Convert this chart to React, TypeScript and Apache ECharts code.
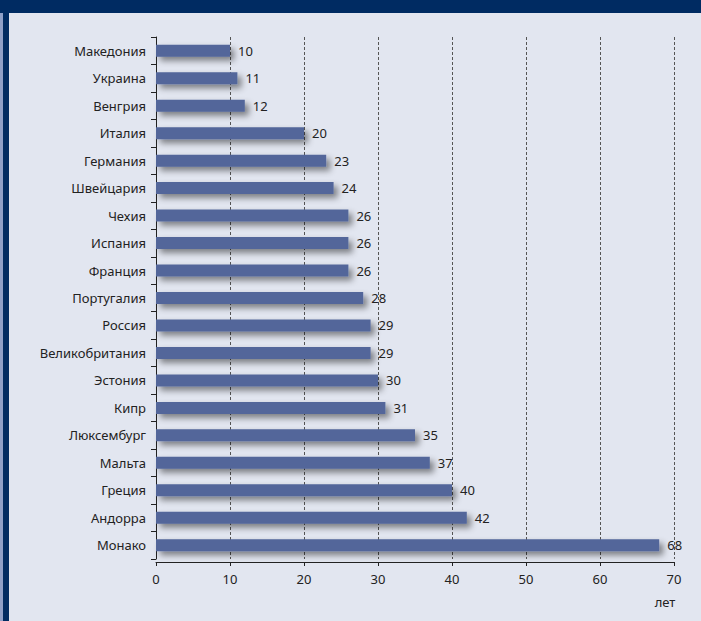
import React, { useEffect, useRef } from "react";
import * as echarts from "echarts";

const countries = [
  "Македония",
  "Украина",
  "Венгрия",
  "Италия",
  "Германия",
  "Швейцария",
  "Чехия",
  "Испания",
  "Франция",
  "Португалия",
  "Россия",
  "Великобритания",
  "Эстония",
  "Кипр",
  "Люксембург",
  "Мальта",
  "Греция",
  "Андорра",
  "Монако",
];
const values = [10, 11, 12, 20, 23, 24, 26, 26, 26, 28, 29, 29, 30, 31, 35, 37, 40, 42, 68];
const unitLabel = "лет";

export default function App() {
  const ref = useRef<HTMLDivElement>(null);
  useEffect(() => {
    if (!ref.current) return;
    const chart = echarts.init(ref.current, null, { renderer: "svg" });
    const font = "'Noto Sans', 'Open Sans', sans-serif";
    chart.setOption({
      animation: false,
      backgroundColor: "#e2e6f0",
      grid: { left: 156, right: 27, top: 37, bottom: 62 },
      xAxis: {
        type: "value",
        min: 0,
        max: 70,
        interval: 10,
        offset: 3,
        axisLine: { show: true, lineStyle: { color: "#222", width: 1 } },
        axisTick: { show: true, length: 4, lineStyle: { color: "#222" } },
        axisLabel: { color: "#222", fontSize: 13, fontFamily: font, margin: 10 },
        splitLine: { show: true, lineStyle: { color: "#555", type: [3, 2], width: 1 } },
      },
      yAxis: {
        type: "category",
        data: countries,
        inverse: true,
        axisLine: { show: true, lineStyle: { color: "#222", width: 1 } },
        axisTick: { show: true, length: 5, lineStyle: { color: "#222" } },
        axisLabel: { color: "#222", fontSize: 13, fontFamily: font, margin: 10 },
      },
      series: [
        {
          type: "bar",
          data: values,
          barWidth: 12,
          itemStyle: {
            color: "#52669a",
            shadowColor: "rgba(0,0,0,0.45)",
            shadowBlur: 6,
            shadowOffsetX: 4,
            shadowOffsetY: 4,
          },
          label: {
            show: true,
            position: "right",
            distance: 8,
            color: "#222",
            fontSize: 13,
            fontFamily: font,
          },
        },
      ],
      graphic: [
        { type: "rect", shape: { x: 0, y: 0, width: 701, height: 13 }, style: { fill: "#002b62" }, z: 10 },
        { type: "rect", shape: { x: 0, y: 13, width: 3, height: 608 }, style: { fill: "#8fa0c8" }, z: 10 },
        { type: "rect", shape: { x: 3, y: 13, width: 6, height: 608 }, style: { fill: "#002b62" }, z: 10 },
        {
          type: "text",
          x: 665,
          y: 602,
          style: {
            text: unitLabel,
            fill: "#222",
            fontSize: 13,
            fontFamily: font,
            textAlign: "center",
            textVerticalAlign: "middle",
          },
          z: 10,
        },
      ],
    });
    return () => chart.dispose();
  }, []);
  return (
    <div
      ref={ref}
      style={{ position: "fixed", left: 0, top: 0, width: 701, height: 621 }}
    />
  );
}
